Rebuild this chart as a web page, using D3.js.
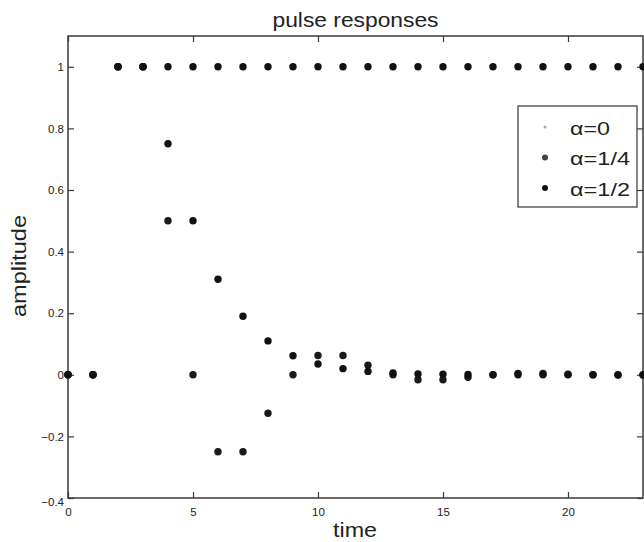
<!DOCTYPE html>
<html>
<head>
<meta charset="utf-8">
<script src="https://cdn.jsdelivr.net/npm/d3@7"></script>
<style>
  body { margin: 0; background: #fff; }
  text { font-family: "Liberation Sans", Arial, Helvetica, sans-serif; fill: #222; }
</style>
</head>
<body>
<div id="chart"></div>
<script>
// sample index
var time = d3.range(0, 24);

// responses
var alpha0 = [0, 0, 1, 1, 1, 1, 1, 1, 1, 1, 1, 1, 1, 1, 1, 1, 1, 1, 1, 1, 1, 1, 1, 1];
var alpha14 = [0, 0, 1, 1, 0.5, 0, -0.25, -0.25, -0.125, 0, 0.0625, 0.0625, 0.031, 0,
  -0.016, -0.016, -0.008, 0, 0.004, 0.004, 0.002, 0, -0.001, -0.001];
var alpha12 = [0, 0, 1, 1, 0.75, 0.5, 0.31, 0.19, 0.11, 0.062, 0.035, 0.02, 0.011, 0.006,
  0.003, 0.002, 0.001, 0, 0, 0, 0, 0, 0, 0];

var seriesNames = ["\u03b1=0", "\u03b1=1/4", "\u03b1=1/2"];
var xTicks = [0, 5, 10, 15, 20];
var yTicks = [-0.4, -0.2, 0, 0.2, 0.4, 0.6, 0.8, 1];

var svgWidth = 644;
var svgHeight = 542;
var margin = { top: 36, right: 1, bottom: 44, left: 68 };
var width = svgWidth - margin.left - margin.right;
var height = svgHeight - margin.top - margin.bottom;

var svg = d3.select("#chart")
  .append("svg")
  .attr("width", svgWidth)
  .attr("height", svgHeight);

var chartGroup = svg.append("g")
  .attr("transform", `translate(${margin.left}, ${margin.top})`);

var xScale = d3.scaleLinear().domain([0, 23]).range([0, width]);
var yScale = d3.scaleLinear().domain([-0.4, 1.1]).range([height, 0]);

var axisColor = "#3a3a3a";

// box round the plot
chartGroup.append("rect")
  .attr("width", width)
  .attr("height", height)
  .attr("fill", "none")
  .attr("stroke", axisColor)
  .attr("stroke-width", 1.5);

// inward ticks on all four sides (matlab style)
var bottomAxis = d3.axisBottom(xScale).tickValues(xTicks).tickSize(-6).tickPadding(10).tickFormat(d3.format("d"));
var topAxis = d3.axisTop(xScale).tickValues(xTicks).tickSize(-6).tickFormat("");
var leftAxis = d3.axisLeft(yScale).tickValues(yTicks).tickSize(-6).tickPadding(4).tickFormat(d => d3.format("")(d));
var rightAxis = d3.axisRight(yScale).tickValues(yTicks).tickSize(-6).tickFormat("");

chartGroup.append("g").attr("transform", `translate(0, ${height})`).call(bottomAxis);
chartGroup.append("g").call(topAxis);
var yAxisG = chartGroup.append("g").call(leftAxis);
chartGroup.append("g").attr("transform", `translate(${width}, 0)`).call(rightAxis);

chartGroup.selectAll(".domain").remove();
chartGroup.selectAll(".tick line").attr("stroke", axisColor).attr("stroke-width", 1.2);
chartGroup.selectAll(".tick text")
  .attr("font-size", 11.5)
  .attr("fill", "#333")
  .attr("font-family", "Liberation Sans, Arial, sans-serif");

// -0.4 label sits a little under its tick
yAxisG.selectAll(".tick text").filter(d => d === -0.4).attr("dy", "0.65em");

// points
var allSeries = [
  { name: seriesNames[0], values: alpha0, color: "#111" },
  { name: seriesNames[1], values: alpha14, color: "#1a1a1a" },
  { name: seriesNames[2], values: alpha12, color: "#111" }
];

allSeries.forEach(function(s) {
  chartGroup.append("g")
    .selectAll("circle")
    .data(time)
    .enter()
    .append("circle")
    .attr("cx", d => xScale(d))
    .attr("cy", d => yScale(s.values[d]))
    .attr("r", 3.7)
    .attr("fill", s.color);
});

// title and axis labels
svg.append("text")
  .attr("x", margin.left + width / 2)
  .attr("y", 27)
  .attr("text-anchor", "middle")
  .attr("font-size", 19.5)
  .attr("textLength", 166)
  .attr("lengthAdjust", "spacingAndGlyphs")
  .text("pulse responses");

svg.append("text")
  .attr("x", 355)
  .attr("y", 537)
  .attr("text-anchor", "middle")
  .attr("font-size", 21)
  .attr("textLength", 44)
  .attr("lengthAdjust", "spacingAndGlyphs")
  .text("time");

svg.append("text")
  .attr("transform", "translate(26, 266) rotate(-90)")
  .attr("text-anchor", "middle")
  .attr("font-size", 20)
  .attr("textLength", 102)
  .attr("lengthAdjust", "spacingAndGlyphs")
  .text("amplitude");

// legend
var legendGroup = svg.append("g").attr("transform", "translate(518, 106)");
legendGroup.append("rect")
  .attr("width", 119)
  .attr("height", 101)
  .attr("fill", "#fff")
  .attr("stroke", "#444")
  .attr("stroke-width", 1.3);

var legendMarks = [
  { r: 1.5, color: "#aaa", w: 40 },
  { r: 3, color: "#444", w: 60 },
  { r: 3, color: "#111", w: 60 }
];

seriesNames.forEach(function(name, i) {
  var row = legendGroup.append("g").attr("transform", `translate(0, ${21 + i * 30.5})`);
  row.append("circle")
    .attr("cx", 27)
    .attr("r", legendMarks[i].r)
    .attr("fill", legendMarks[i].color);
  row.append("text")
    .attr("x", 52)
    .attr("y", 7.5)
    .attr("font-size", 18.5)
    .attr("textLength", legendMarks[i].w)
    .attr("lengthAdjust", "spacingAndGlyphs")
    .text(name);
});
</script>
</body>
</html>
